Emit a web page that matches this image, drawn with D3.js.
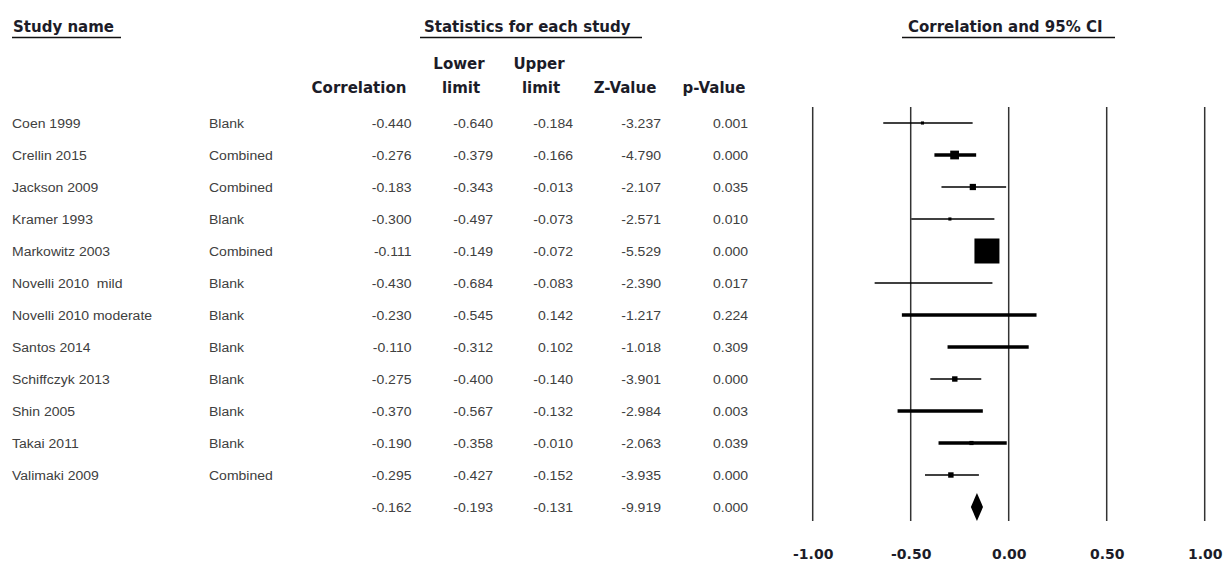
<!DOCTYPE html>
<html lang="en">
<head>
<meta charset="UTF-8" />
<title>Forest plot</title>
<script src="https://cdn.jsdelivr.net/npm/d3@7"></script>
<style>
  body { margin: 0; background: #fff; }
  .hdr { font-family: "DejaVu Sans", Verdana, sans-serif; font-weight: bold; fill: #1c1c28; }
  .cell { font-family: "Liberation Sans", Arial, sans-serif; font-size: 12.5px; fill: #404040; white-space: pre; }
</style>
</head>
<body>
<script>
// study rows
var studyNames = ["Coen 1999", "Crellin 2015", "Jackson 2009", "Kramer 1993", "Markowitz 2003",
  "Novelli 2010  mild", "Novelli 2010 moderate", "Santos 2014", "Schiffczyk 2013", "Shin 2005",
  "Takai 2011", "Valimaki 2009"];
var subgroup = ["Blank", "Combined", "Combined", "Blank", "Combined", "Blank", "Blank", "Blank",
  "Blank", "Blank", "Blank", "Combined"];
var correlation = [-0.440, -0.276, -0.183, -0.300, -0.111, -0.430, -0.230, -0.110, -0.275, -0.370, -0.190, -0.295];
var lowerLimit  = [-0.640, -0.379, -0.343, -0.497, -0.149, -0.684, -0.545, -0.312, -0.400, -0.567, -0.358, -0.427];
var upperLimit  = [-0.184, -0.166, -0.013, -0.073, -0.072, -0.083,  0.142,  0.102, -0.140, -0.132, -0.010, -0.152];
var zValue      = [-3.237, -4.790, -2.107, -2.571, -5.529, -2.390, -1.217, -1.018, -3.901, -2.984, -2.063, -3.935];
var pValue      = [0.001, 0.000, 0.035, 0.010, 0.000, 0.017, 0.224, 0.309, 0.000, 0.003, 0.039, 0.000];
// relative box weight
var boxWeight   = [1.5, 4.2, 3, 1.5, 12, 0, 0, 0, 2.6, 0, 2, 2.6];
// rows whose CI is drawn with the heavy line
var heavyCI     = [0, 1, 0, 0, 0, 0, 1, 1, 0, 1, 1, 0];

// pooled estimate
var summary = { corr: -0.162, lower: -0.193, upper: -0.131, z: -9.919, p: 0.000 };

var axisTicks = [-1, -0.5, 0, 0.5, 1];

var W = 1226, H = 562;
var svg = d3.select("body").append("svg").attr("width", W).attr("height", H);

var nRows = studyNames.length + 1;
var yScale = d3.scalePoint().domain(d3.range(nRows)).range([123, 507]);
var xScale = d3.scaleLinear().domain([-1, 1]).range([812.7, 1204.7]);
var boxScale = d3.scaleLinear().domain([0, 12]).range([0, 25]);

// ---- headers ----
function header(txt, x, y, anchor) {
  return svg.append("text").attr("class", "hdr").attr("x", x).attr("y", y)
    .attr("font-size", "15px").attr("text-anchor", anchor || "start").text(txt);
}
function underline(x1, x2) {
  svg.append("line").attr("x1", x1).attr("x2", x2).attr("y1", 37.5).attr("y2", 37.5)
    .attr("stroke", "#111").attr("stroke-width", 1.5);
}
header("Study name", 13, 32);
underline(12, 121);
header("Statistics for each study", 424, 32);
underline(420, 642);
header("Correlation and 95% CI", 908, 32);
underline(902, 1115);

header("Correlation", 359, 93, "middle");
header("Lower", 459, 69, "middle");
header("limit", 461, 93, "middle");
header("Upper", 539, 69, "middle");
header("limit", 541, 93, "middle");
header("Z-Value", 625, 93, "middle");
header("p-Value", 714, 93, "middle");

// ---- table rows ----
var rows = studyNames.map(function(n, i) {
  return { name: n, group: subgroup[i], corr: correlation[i], lower: lowerLimit[i],
           upper: upperLimit[i], z: zValue[i], p: pValue[i], w: boxWeight[i], heavy: heavyCI[i], i: i };
});

var cols = [
  { key: "corr", x: 411.5 }, { key: "lower", x: 493 }, { key: "upper", x: 573 },
  { key: "z", x: 661 }, { key: "p", x: 748 }
];

var allRows = rows.concat([{ name: "", group: "", corr: summary.corr, lower: summary.lower,
  upper: summary.upper, z: summary.z, p: summary.p, i: rows.length }]);

var rg = svg.selectAll("g.row").data(allRows).enter().append("g")
  .attr("class", "row")
  .attr("transform", function(d) { return "translate(0," + (yScale(d.i) + 4.5) + ")"; });

rg.append("text").attr("class", "cell").attr("x", 12).text(function(d) { return d.name; });
rg.append("text").attr("class", "cell").attr("x", 209).text(function(d) { return d.group; });
cols.forEach(function(c) {
  rg.append("text").attr("class", "cell").attr("x", c.x).attr("text-anchor", "end")
    .text(function(d) { return d[c.key].toFixed(3); });
});

// the old report font is a little wider than Arial at this size
svg.selectAll("text.cell").each(function() {
  var len = this.getComputedTextLength();
  if (len > 0) {
    d3.select(this).attr("textLength", len * 1.12).attr("lengthAdjust", "spacingAndGlyphs");
  }
});

// ---- forest plot ----
svg.selectAll("line.grid").data(axisTicks).enter().append("line")
  .attr("class", "grid")
  .attr("x1", function(d) { return xScale(d); })
  .attr("x2", function(d) { return xScale(d); })
  .attr("y1", 107).attr("y2", 521)
  .attr("stroke", "#333").attr("stroke-width", 1.5);

svg.selectAll("line.ci").data(rows).enter().append("line")
  .attr("class", "ci")
  .attr("x1", function(d) { return xScale(d.lower); })
  .attr("x2", function(d) { return xScale(d.upper); })
  .attr("y1", function(d) { return yScale(d.i); })
  .attr("y2", function(d) { return yScale(d.i); })
  .attr("stroke", "#000")
  .attr("stroke-width", function(d) { return d.heavy ? 3.5 : 1.5; });

svg.selectAll("rect.box").data(rows.filter(function(d) { return d.w > 0; })).enter().append("rect")
  .attr("class", "box")
  .attr("x", function(d) { return xScale(d.corr) - boxScale(d.w) / 2; })
  .attr("y", function(d) { return yScale(d.i) - boxScale(d.w) / 2; })
  .attr("width", function(d) { return boxScale(d.w); })
  .attr("height", function(d) { return boxScale(d.w); })
  .attr("fill", "#000");

// summary diamond
var sy = yScale(rows.length);
var dh = 14;
svg.append("path")
  .attr("d", "M" + xScale(summary.lower) + "," + sy +
             "L" + xScale(summary.corr) + "," + (sy - dh) +
             "L" + xScale(summary.upper) + "," + sy +
             "L" + xScale(summary.corr) + "," + (sy + dh) + "Z")
  .attr("fill", "#000");

// axis labels
var xAxis = d3.axisBottom(xScale)
  .tickValues(axisTicks)
  .tickSize(0)
  .tickPadding(0)
  .tickFormat(function(d) { return d3.format(".2f")(d).replace("\u2212", "-"); });

var ax = svg.append("g").attr("transform", "translate(0,549)").call(xAxis);
ax.select(".domain").remove();
ax.selectAll("text")
  .attr("font-family", "DejaVu Sans, Verdana, sans-serif")
  .attr("font-weight", "bold")
  .attr("font-size", "14px")
  .attr("fill", "#1c1c28");
</script>
</body>
</html>
